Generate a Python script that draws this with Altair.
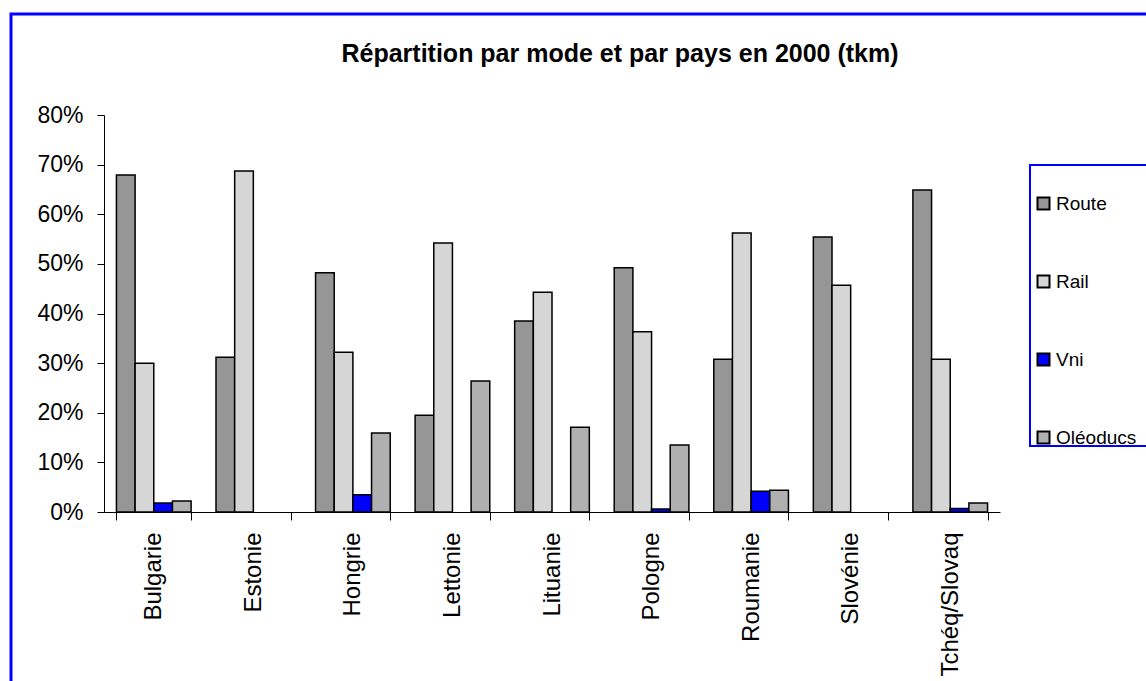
import altair as alt
import pandas as pd

countries = ["Bulgarie", "Estonie", "Hongrie", "Lettonie", "Lituanie",
             "Pologne", "Roumanie", "Slovénie", "Tchéq/Slovaq"]
modes = ["Route", "Rail", "Vni", "Oléoducs"]
route = [0.679, 0.312, 0.482, 0.195, 0.385, 0.492, 0.308, 0.554, 0.649]
rail = [0.300, 0.687, 0.322, 0.542, 0.443, 0.363, 0.562, 0.457, 0.308]
vni = [0.018, 0.0, 0.035, 0.0, 0.0, 0.006, 0.042, 0.0, 0.007]
oleoducs = [0.022, 0.0, 0.159, 0.264, 0.171, 0.135, 0.044, 0.0, 0.018]
colors = ["#969696", "#d6d6d6", "#0000ff", "#b0b0b0"]
y_ticks = [0, 0.1, 0.2, 0.3, 0.4, 0.5, 0.6, 0.7, 0.8]
title_text = "Répartition par mode et par pays en 2000 (tkm)"

rows = []
for series, name in zip([route, rail, vni, oleoducs], modes):
    for c, v in zip(countries, series):
        rows.append({"pays": c, "mode": name, "part": v})
df = pd.DataFrame(rows)

FONT = "Liberation Sans"

bars = alt.Chart(df).transform_filter(alt.datum.part > 0).mark_bar(
    stroke="black", strokeWidth=1.5
).encode(
    x=alt.X("pays:N", sort=countries,
            scale=alt.Scale(paddingInner=0.25, paddingOuter=0.125),
            axis=alt.Axis(title=None, labelAngle=-90, labelFontSize=24,
                          labelPadding=12, tickSize=8, tickBand="extent",
                          domainColor="black", tickColor="black",
                          labelColor="black", grid=False, labelFont=FONT)),
    xOffset=alt.XOffset("mode:N", sort=modes, scale=alt.Scale(domain=modes)),
    y=alt.Y("part:Q", scale=alt.Scale(domain=[0, 0.8], nice=False),
            axis=alt.Axis(title=None, format=".0%", values=y_ticks,
                          labelFontSize=23, labelPadding=14, tickSize=7,
                          domainColor="black", tickColor="black",
                          labelColor="black", grid=False, labelFont=FONT)),
    color=alt.Color("mode:N", sort=modes,
                    scale=alt.Scale(domain=modes, range=colors),
                    legend=alt.Legend(title=None, orient="none",
                                      legendX=930, legendY=79,
                                      symbolType="square", symbolSize=144,
                                      symbolStrokeColor="black",
                                      symbolStrokeWidth=2,
                                      labelFontSize=19, labelFont=FONT,
                                      labelColor="black", labelOffset=3,
                                      rowPadding=57, padding=0)),
)

frame_df = pd.DataFrame({"k": [0]})
outer = alt.Chart(frame_df).mark_rect(
    fill=None, stroke="#0000ff", strokeWidth=3
).encode(
    x=alt.value(-93), x2=alt.value(1150),
    y=alt.value(-101), y2=alt.value(700)
)
legend_box = alt.Chart(frame_df).mark_rect(
    fill="white", stroke="#0000ff", strokeWidth=2
).encode(
    x=alt.value(926), x2=alt.value(1080),
    y=alt.value(50), y2=alt.value(331)
)
title = alt.Chart(pd.DataFrame({"t": [title_text]})).mark_text(
    font=FONT, fontSize=25, fontWeight="bold", color="black",
    align="center", baseline="alphabetic"
).encode(
    text="t:N", x=alt.value(516), y=alt.value(-53)
)

chart = alt.layer(outer, legend_box, title, bars).properties(
    width=896, height=397,
    padding={"left": 104, "top": 115, "right": 146, "bottom": 169},
    autosize=alt.AutoSizeParams(type="none"),
    background="white",
).configure_view(stroke=None)

chart.save("out.html", embed_options={"renderer": "svg", "actions": False})
